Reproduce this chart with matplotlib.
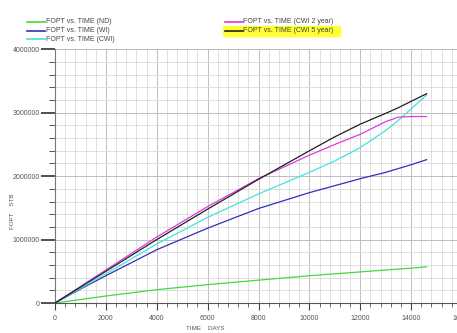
import numpy as np
import matplotlib
matplotlib.use("Agg")
import matplotlib.pyplot as plt
from matplotlib.lines import Line2D
from matplotlib.patches import Rectangle
from matplotlib.ticker import MultipleLocator, FuncFormatter

plt.rcParams["font.family"] = ["Liberation Sans", "DejaVu Sans"]

# time axis (days) and cumulative oil (STB, millions)
days = [0, 1000, 2000, 4000, 6000, 8000, 10000, 11000, 12000, 13000, 13500, 14000, 14610]
fopt_nd = [0, 0.055, 0.11, 0.21, 0.29, 0.36, 0.43, 0.46, 0.49, 0.52, 0.535, 0.55, 0.57]
fopt_wi = [0, 0.22, 0.43, 0.84, 1.18, 1.49, 1.74, 1.85, 1.96, 2.06, 2.12, 2.18, 2.26]
fopt_cwi = [0, 0.23, 0.46, 0.93, 1.35, 1.72, 2.06, 2.24, 2.45, 2.72, 2.88, 3.06, 3.28]
fopt_cwi2 = [0, 0.26, 0.52, 1.04, 1.52, 1.96, 2.33, 2.50, 2.66, 2.86, 2.93, 2.94, 2.94]
fopt_cwi5 = [0, 0.25, 0.50, 1.00, 1.48, 1.95, 2.40, 2.62, 2.82, 2.99, 3.08, 3.18, 3.30]

labels = ["FOPT vs. TIME (ND)", "FOPT vs. TIME (WI)", "FOPT vs. TIME (CWI)",
          "FOPT vs. TIME (CWI 2 year)", "FOPT vs. TIME (CWI 5 year)"]
colors = ["#3fdc3f", "#3030b8", "#40e4dc", "#dc3cdc", "#202020"]
series = [fopt_nd, fopt_wi, fopt_cwi, fopt_cwi2, fopt_cwi5]

W, H = 457, 333
fig = plt.figure(figsize=(W / 100, H / 100), dpi=100)
ax = fig.add_axes([55 / W, 30 / H, (462 - 55) / W, (303 - 49.3) / H])

for vals, col, lab in zip(series, colors, labels):
    ax.plot(days, np.array(vals) * 1e6, color=col, lw=0.9, label=lab, zorder=3)

ax.set_xlim(0, 16000)
ax.set_ylim(0, 4000000)
ax.xaxis.set_major_locator(MultipleLocator(2000))
ax.xaxis.set_minor_locator(MultipleLocator(400))
ax.yaxis.set_major_locator(MultipleLocator(1000000))
ax.yaxis.set_minor_locator(MultipleLocator(200000))
ax.yaxis.set_major_formatter(FuncFormatter(lambda v, p: f"{int(v)}"))

ax.grid(which="minor", color="#dadada", lw=0.6)
ax.grid(which="major", color="#bdbdbd", lw=0.7)
ax.set_axisbelow(True)

for s in ["top", "right"]:
    ax.spines[s].set_visible(False)
ax.spines["left"].set_color("#777777")
ax.spines["bottom"].set_color("#555555")
ax.spines["left"].set_linewidth(0.8)
ax.spines["bottom"].set_linewidth(0.8)

ax.tick_params(axis="y", which="major", length=10, width=1.1, color="#222222",
               labelsize=5, labelcolor="#555555", pad=1)
ax.tick_params(axis="y", which="minor", length=4, width=0.7, color="#555555")
ax.tick_params(axis="x", which="major", length=5, width=0.8, color="#444444",
               labelsize=5, labelcolor="#555555", pad=4)
ax.tick_params(axis="x", which="minor", length=3, width=0.6, color="#555555")

fig.text(12 / W, 1 - 211 / H, "FOPT    STB", rotation=90, fontsize=4.5,
         color="#555555", ha="center", va="center")
fig.text(205 / W, 1 - 329 / H, "TIME    DAYS", fontsize=4.5,
         color="#555555", ha="center", va="center")

# highlight behind the CWI 5 year legend entry
fig.add_artist(Rectangle((223 / W, 1 - 35.5 / H), 117 / W, 9.5 / H,
                         transform=fig.transFigure, color="#ffff33", zorder=0))

legend_pos = [(27, 21.5), (27, 30.5), (27, 39.3), (225, 21.5), (225, 30.5)]
for (lx, ly), col, lab in zip(legend_pos, colors, labels):
    fig.add_artist(Line2D([lx / W, (lx + 18) / W], [1 - ly / H, 1 - ly / H],
                          transform=fig.transFigure, color=col, lw=1.2))
    fig.text((lx + 18.5) / W, 1 - ly / H, lab, fontsize=5, color="#444444",
             ha="left", va="center")

fig.savefig("out.png", dpi=100)
